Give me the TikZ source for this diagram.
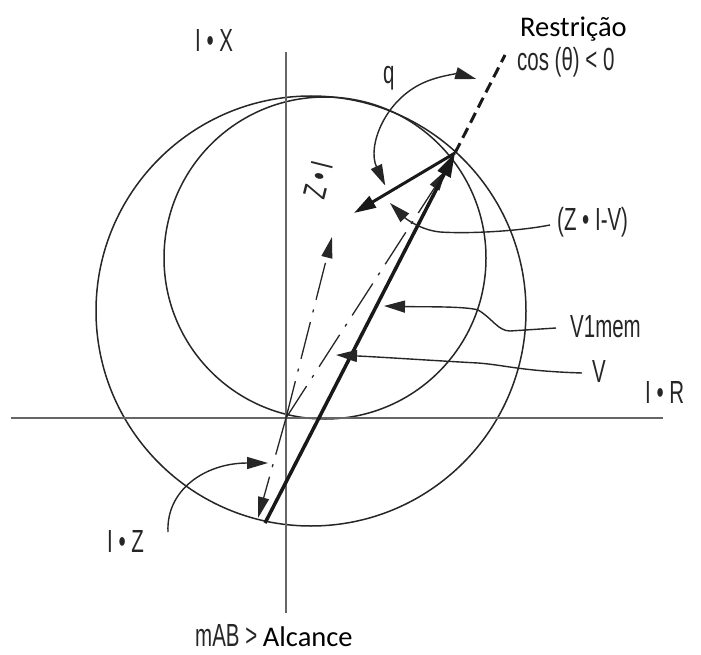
\documentclass[tikz,border=0pt]{standalone}
\usepackage{fontspec}
\setmainfont{Carlito}
\newfontfamily\cond[FakeStretch=0.64]{Liberation Sans}
\usetikzlibrary{arrows.meta,calc}
\begin{document}
\begin{tikzpicture}[x=1pt,y=-1pt,
  lab/.style={font=\cond\fontsize{32}{34}\selectfont, inner sep=0pt, text=black!85},
  labc/.style={font=\fontsize{28.5}{30}\selectfont, inner sep=0pt, text=black},
  axisline/.style={line width=2pt, draw=black!60},
  circ/.style={line width=1.5pt, draw=black!85},
  ptr/.style={line width=1.4pt, draw=black!85, -{Triangle[length=21pt,width=12pt]}},
  dblptr/.style={line width=1.4pt, draw=black!85, {Triangle[length=21pt,width=12pt]}-{Triangle[length=21pt,width=12pt]}},
  dd/.style={line width=1.3pt, draw=black!85, dash pattern=on 38pt off 10pt on 3pt off 10pt, -{Triangle[length=21pt,width=11pt]}},
  thickvec/.style={line width=3.5pt, draw=black!90, -{Triangle[length=24pt,width=14pt]}},
  zvvec/.style={line width=3pt, draw=black!90, -{Triangle[length=22pt,width=13pt]}},
  restr/.style={line width=3pt, draw=black!90, dash pattern=on 11pt off 6pt}
]
\fill[white] (0,0) rectangle (701,655);
\useasboundingbox (0,0) rectangle (701,655);

% key points
\coordinate (O) at (286,418);
\coordinate (T) at (455,153);
\coordinate (Vbot) at (265,523);
\coordinate (DDtip) at (446,170);
\coordinate (ZItip) at (332,237);
\coordinate (IZtip) at (258,518);
\coordinate (ZVend) at (354,213);
\coordinate (Rend) at (505,55);

% circles
\draw[circ] (311,311) circle[radius=215];
\draw[circ] (325,258) circle[radius=161];

% axes
\coordinate (axT) at (286,52);
\coordinate (axB) at (286,613);
\coordinate (axL) at (11,418);
\coordinate (axR) at (663,418);
\draw[axisline] (axT) -- (axB);
\draw[axisline] (axL) -- (axR);

% vectors
\draw[dd] (O) -- (ZItip);
\draw[dd] (O) -- (IZtip);
\draw[dd] (O) -- (DDtip);
\draw[thickvec] (Vbot) -- (T);
\draw[zvvec] (T) -- (ZVend);
\draw[restr] (T) -- (Rend);

% angle q
\draw[dblptr] ($(T)+(155:77)$) arc[start angle=155, end angle=286, radius=77];

% labels
\node[lab, anchor=base west] (lIX) at (195,52) {I • X};
\node[labc, anchor=base west] (lRes) at (520,37) {Restrição};
\node[lab, anchor=base west] (lcos) at (517,71) {cos (θ) < 0};
\node[lab, anchor=base west] (lq) at (383,84) {q};
\node[lab, anchor=base west] (lZIV) at (557,230) {(Z • I-V)};
\node[lab, anchor=base west] (lV1) at (570,337) {V1mem};
\node[lab, anchor=base west] (lV) at (592,382) {V};
\node[lab, anchor=base west] (lIR) at (645,403) {I • R};
\node[lab, anchor=base west] (lIZ) at (107,552) {I • Z};
\node[anchor=base west, inner sep=0pt] (lmAB) at (195,646)
  {\cond\fontsize{32}{34}\selectfont\color{black!85}mAB >\ {\rmfamily\fontsize{28.5}{30}\selectfont\color{black}Alcance}};
\node[lab, rotate=76] (lZI) at (318,180) {Z • I};

% pointer curves
\coordinate (sZIV) at (550,225);
\coordinate (tZIV) at (390,203);
\coordinate (sV1) at (556,328);
\coordinate (tV1) at (384,306);
\coordinate (sV) at (582,373);
\coordinate (tV) at (336,355);
\coordinate (sIZ) at (168,532);
\coordinate (tIZ) at (268,463);

\draw[ptr] (sZIV) .. controls (520,231) and (470,234) .. (440,232)
  .. controls (420,230) and (405,218) .. (tZIV);
\draw[ptr] (sV1) -- (510,331) .. controls (498,331) and (492,318) .. (478,310)
  .. controls (465,306) and (420,307) .. (tV1);
\draw[ptr] (sV) .. controls (520,371) and (505,365) .. (478,363)
  .. controls (440,361) and (380,357) .. (tV);
\draw[ptr] (sIZ) .. controls (166,490) and (205,463) .. (tIZ);
\end{tikzpicture}
\end{document}
